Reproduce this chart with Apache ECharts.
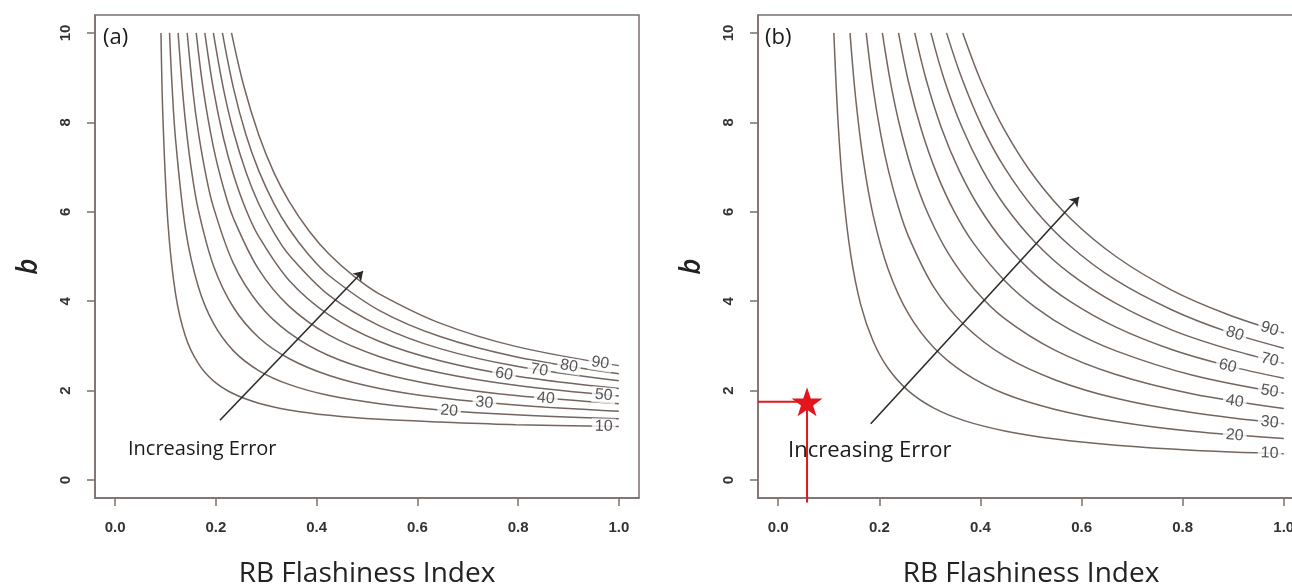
<!DOCTYPE html>
<html><head><meta charset="utf-8">
<script src="https://cdn.jsdelivr.net/npm/echarts@6/dist/echarts.min.js"></script>
<style>html,body{margin:0;padding:0;background:#fff}#c{width:1292px;height:584px}</style>
</head><body><div id="c"></div>
<script>
// ---- data ----
const levels = [10, 20, 30, 40, 50, 60, 70, 80, 90];
const xTicks = [0, 0.2, 0.4, 0.6, 0.8, 1.0];
const yTicks = [0, 2, 4, 6, 8, 10];

// panel (a) contour lines [RB index, b]
const curveA10 = [[0.091,10],[0.095,8.05],[0.105,5.72],[0.12,4.16],[0.14,3.20],[0.165,2.61],[0.195,2.22],[0.235,1.93],[0.285,1.72],[0.345,1.57],[0.425,1.45],[0.525,1.36],[0.645,1.30],[0.795,1.24],[1.0,1.20]];
const curveA20 = [[0.108,10],[0.113,8.81],[0.12,7.61],[0.14,5.59],[0.165,4.33],[0.195,3.51],[0.235,2.89],[0.285,2.45],[0.345,2.14],[0.425,1.89],[0.525,1.71],[0.645,1.57],[0.795,1.46],[1.0,1.37]];
const curveA30 = [[0.125,10],[0.133,8.81],[0.14,7.97],[0.15,7.05],[0.165,6.05],[0.195,4.80],[0.235,3.86],[0.285,3.19],[0.345,2.72],[0.425,2.34],[0.525,2.05],[0.645,1.84],[0.795,1.68],[1.0,1.54]];
const curveA40 = [[0.143,10],[0.155,8.64],[0.165,7.79],[0.18,6.83],[0.195,6.11],[0.235,4.84],[0.285,3.94],[0.345,3.30],[0.425,2.78],[0.525,2.40],[0.645,2.11],[0.795,1.89],[1.0,1.71]];
const curveA50 = [[0.161,10],[0.175,8.73],[0.195,7.45],[0.215,6.54],[0.235,5.85],[0.285,4.71],[0.345,3.89],[0.425,3.24],[0.525,2.76],[0.645,2.40],[0.795,2.12],[1.0,1.88]];
const curveA60 = [[0.178,10],[0.195,8.75],[0.215,7.65],[0.235,6.83],[0.26,6.04],[0.285,5.45],[0.345,4.47],[0.425,3.69],[0.525,3.10],[0.645,2.67],[0.795,2.33],[1.0,2.05]];
const curveA70 = [[0.195,10],[0.215,8.75],[0.235,7.79],[0.26,6.88],[0.285,6.18],[0.315,5.54],[0.345,5.04],[0.425,4.13],[0.525,3.45],[0.645,2.94],[0.795,2.55],[1.0,2.22]];
const curveA80 = [[0.213,10],[0.235,8.76],[0.26,7.71],[0.285,6.92],[0.315,6.19],[0.345,5.62],[0.385,5.03],[0.425,4.57],[0.525,3.79],[0.645,3.21],[0.795,2.76],[1.0,2.38]];
const curveA90 = [[0.231,10],[0.255,8.83],[0.285,7.72],[0.315,6.88],[0.345,6.24],[0.385,5.57],[0.425,5.05],[0.475,4.55],[0.525,4.16],[0.645,3.51],[0.795,2.99],[1.0,2.56]];

// panel (b) contour lines [RB index, b]
const curveB10 = [[0.110,10],[0.118,8.08],[0.128,6.51],[0.143,5.07],[0.163,3.93],[0.188,3.10],[0.218,2.49],[0.258,1.99],[0.308,1.61],[0.368,1.33],[0.448,1.10],[0.548,0.92],[0.668,0.78],[0.818,0.67],[1.0,0.59]];
const curveB20 = [[0.142,10],[0.153,8.56],[0.168,7.17],[0.188,5.91],[0.218,4.70],[0.258,3.71],[0.308,2.96],[0.368,2.40],[0.448,1.93],[0.548,1.58],[0.668,1.31],[0.818,1.09],[1.0,0.93]];
const curveB30 = [[0.174,10],[0.188,8.74],[0.203,7.72],[0.218,6.92],[0.238,6.09],[0.258,5.44],[0.308,4.31],[0.368,3.47],[0.448,2.77],[0.548,2.24],[0.668,1.83],[0.818,1.51],[1.0,1.26]];
const curveB40 = [[0.206,10],[0.223,8.84],[0.243,7.80],[0.268,6.80],[0.298,5.91],[0.338,5.04],[0.388,4.27],[0.448,3.61],[0.548,2.90],[0.668,2.36],[0.818,1.93],[1.0,1.60]];
const curveB50 = [[0.238,10],[0.258,8.89],[0.283,7.84],[0.313,6.87],[0.348,6.01],[0.388,5.27],[0.448,4.46],[0.508,3.87],[0.578,3.36],[0.668,2.89],[0.818,2.35],[1.0,1.94]];
const curveB60 = [[0.270,10],[0.293,8.94],[0.323,7.87],[0.358,6.92],[0.398,6.09],[0.448,5.30],[0.508,4.59],[0.578,3.99],[0.668,3.42],[0.778,2.92],[0.888,2.56],[1.0,2.28]];
const curveB70 = [[0.302,10],[0.328,8.97],[0.363,7.90],[0.403,6.96],[0.448,6.14],[0.508,5.32],[0.578,4.61],[0.668,3.95],[0.778,3.36],[0.888,2.94],[1.0,2.61]];
const curveB80 = [[0.333,10],[0.363,8.99],[0.403,7.91],[0.448,6.98],[0.508,6.04],[0.578,5.23],[0.668,4.47],[0.778,3.81],[0.888,3.32],[1.0,2.95]];
const curveB90 = [[0.365,10],[0.403,8.87],[0.448,7.82],[0.508,6.76],[0.578,5.85],[0.668,5.00],[0.778,4.25],[0.888,3.71],[1.0,3.29]];

// contour label anchor points (on the lines) and their tilt
const labelAtA = [[0.970,1.20],[0.663,1.55],[0.733,1.73],[0.855,1.83],[0.970,1.90],[0.772,2.37],[0.842,2.46],[0.901,2.55],[0.963,2.62]];
const labelAtB = [[0.972,0.60],[0.903,1.00],[0.972,1.29],[0.903,1.76],[0.972,1.99],[0.889,2.55],[0.972,2.69],[0.903,3.27],[0.972,3.38]];
const tiltA = [1, 4, 5, 5, 5, 10, 9, 9, 9];
const tiltB = [2, 5, 6, 9, 10, 14, 14, 18, 17];

// "Increasing Error" arrows and the red marked point
const arrowA = [[0.208, 1.34], [0.492, 4.67]];
const arrowB = [[0.183, 1.26], [0.595, 6.33]];
const markedPoint = [0.057, 1.75];

// ---- chart ----
const curvesA = [curveA10, curveA20, curveA30, curveA40, curveA50, curveA60, curveA70, curveA80, curveA90];
const curvesB = [curveB10, curveB20, curveB30, curveB40, curveB50, curveB60, curveB70, curveB80, curveB90];
const LINE = '#74655f';
const BOX = '#7a706c';
const STAR = 'path://M50,0 L61.8,35.1 L98.1,35.1 L68.8,56.7 L79.4,91 L50,70 L20.6,91 L31.2,56.7 L1.9,35.1 L38.2,35.1 Z';

function xAxisFor(g) {
  return {
    gridIndex: g, type: 'value', min: -0.04, max: 1.04,
    axisLine: { show: true, onZero: false, lineStyle: { color: BOX, width: 1.5 } }, splitLine: { show: false },
    axisTick: { show: true, length: 8, customValues: xTicks, lineStyle: { color: BOX, width: 1.5 } },
    axisLabel: { customValues: xTicks, formatter: v => v.toFixed(1), margin: 22, fontSize: 15,
      fontFamily: 'Liberation Sans, Arial', color: '#333', fontWeight: 'bold' },
    name: 'RB Flashiness Index', nameLocation: 'middle', nameGap: 62,
    nameTextStyle: { fontFamily: 'Open Sans', fontSize: 28, color: '#222' }
  };
}
function yAxisFor(g) {
  return {
    gridIndex: g, type: 'value', min: -0.4, max: 10.4,
    axisLine: { show: true, onZero: false, lineStyle: { color: BOX, width: 1.5 } }, splitLine: { show: false },
    axisTick: { show: true, length: 8, customValues: yTicks, lineStyle: { color: BOX, width: 1.5 } },
    axisLabel: { customValues: yTicks, rotate: 90, margin: 22, fontSize: 15,
      fontFamily: 'Liberation Sans, Arial', color: '#333', fontWeight: 'bold' },
    name: 'b', nameLocation: 'middle', nameGap: 52, nameRotate: 90,
    nameTextStyle: { fontFamily: 'Open Sans', fontSize: 28, fontStyle: 'italic', fontWeight: 600, color: '#222', padding: [0, 20, 0, 0] }
  };
}

const series = [];
[curvesA, curvesB].forEach((curves, g) => {
  curves.forEach((c, i) => {
    series.push({
      type: 'line', name: (g ? 'b' : 'a') + levels[i], xAxisIndex: g, yAxisIndex: g,
      data: c, smooth: 0.35, showSymbol: false, symbol: 'none', silent: true,
      lineStyle: { color: LINE, width: 1.5 }, z: 2
    });
  });
  const pos = g ? labelAtB : labelAtA;
  const tilt = g ? tiltB : tiltA;
  series.push({
    type: 'scatter', xAxisIndex: g, yAxisIndex: g, silent: true, z: 5,
    symbolSize: 1, itemStyle: { color: 'rgba(0,0,0,0)' },
    data: levels.map((lv, i) => ({ name: String(lv), value: pos[i],
      label: { rotate: -tilt[i] } })),
    label: { show: true, position: 'inside', formatter: '{b}', fontSize: 16,
      fontFamily: 'Liberation Sans, Arial', color: '#2a2a2a', backgroundColor: '#fff', padding: [0, 3] }
  });
  const arr = g ? arrowB : arrowA;
  series.push({
    type: 'lines', coordinateSystem: 'cartesian2d', xAxisIndex: g, yAxisIndex: g, silent: true, z: 4,
    symbol: ['none', 'arrow'], symbolSize: 9,
    lineStyle: { color: '#2b2b2b', width: 1.6, opacity: 1 },
    data: [{ coords: arr }]
  });
});
// red reference lines and star in panel (b)
series.push({
  type: 'line', xAxisIndex: 1, yAxisIndex: 1, silent: true, clip: false, z: 6,
  data: [[-0.04, markedPoint[1]], markedPoint, [markedPoint[0], -0.5]],
  showSymbol: false, symbol: 'none', lineStyle: { color: '#e3161d', width: 2 }
});
series.push({
  type: 'scatter', xAxisIndex: 1, yAxisIndex: 1, silent: true, z: 7,
  symbol: STAR, symbolSize: [31, 29], itemStyle: { color: '#e3161d', opacity: 1 },
  data: [markedPoint]
});

const chart = echarts.init(document.getElementById('c'), null, { renderer: 'canvas' });
chart.setOption({
  animation: false,
  backgroundColor: '#fff',
  grid: [
    { left: 95, top: 15, width: 544, height: 483, outerBoundsMode: 'none', containLabel: false, show: true, borderColor: BOX, borderWidth: 1.5, backgroundColor: 'rgba(0,0,0,0)' },
    { left: 758, top: 15, width: 546, height: 483, outerBoundsMode: 'none', containLabel: false, show: true, borderColor: BOX, borderWidth: 1.5, backgroundColor: 'rgba(0,0,0,0)' }
  ],
  xAxis: [xAxisFor(0), xAxisFor(1)],
  yAxis: [yAxisFor(0), yAxisFor(1)],
  series: series,
  graphic: [
    { type: 'text', left: 103, top: 27, style: { text: '(a)', font: '22px "Open Sans"', fill: '#1a1a1a' } },
    { type: 'text', left: 765, top: 27, style: { text: '(b)', font: '22px "Open Sans"', fill: '#1a1a1a' } },
    { type: 'text', left: 128, top: 439, style: { text: 'Increasing Error', font: '20px "Open Sans"', fill: '#1a1a1a' } },
    { type: 'text', left: 788, top: 440, style: { text: 'Increasing Error', font: '22px "Open Sans"', fill: '#1a1a1a' } }
  ]
});
</script>
</body></html>
